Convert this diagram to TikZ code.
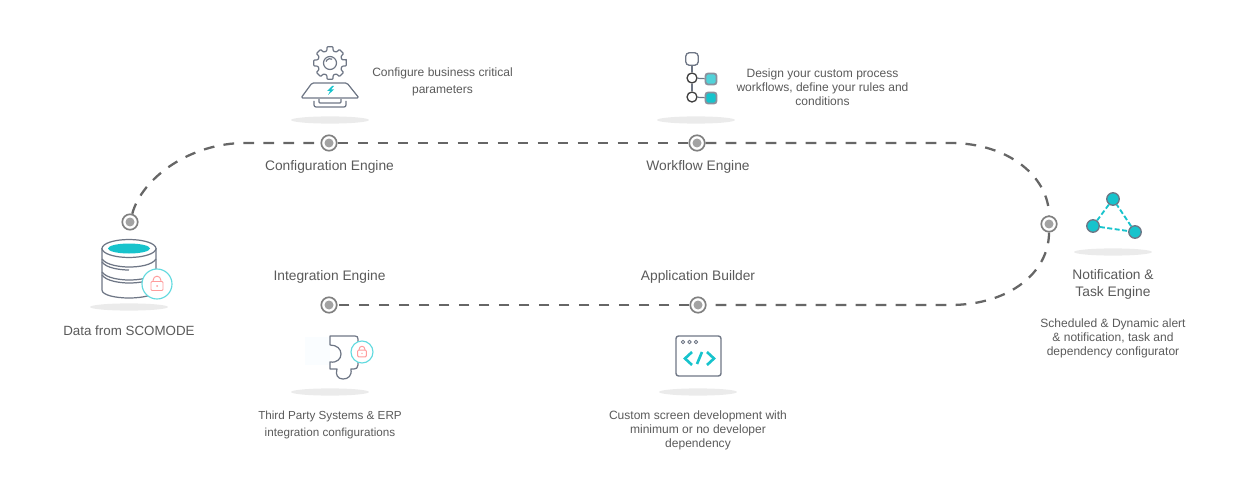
\documentclass[tikz,border=0pt]{standalone}
\usepackage{fontspec}
\setmainfont{Liberation Sans}
\definecolor{txt}{HTML}{5A5A5A}
\definecolor{tealc}{HTML}{17C3CC}
\definecolor{slate}{HTML}{6E7685}
\definecolor{shad}{HTML}{EBEBEB}
\definecolor{pinkc}{HTML}{FF9C9C}
\definecolor{ringc}{HTML}{62DADF}
\tikzset{
  x=0.02cm,y=-0.02cm,
  stopdot/.style={circle,draw=black!50,line width=0.95pt,fill=white,minimum size=0.31cm,inner sep=0pt,
    path picture={\fill[black!36] (path picture bounding box.center) circle (0.09cm);}},
  route/.style={draw=black!60,line width=1.3pt,dash pattern=on 0.215cm off 0.185cm},
  title/.style={text=txt,font=\fontsize{7.85}{9.6}\selectfont,inner sep=0pt,align=center},
  desc/.style={text=txt,font=\fontsize{6.85}{8}\selectfont,inner sep=0pt,align=center},
  descwide/.style={text=txt,font=\fontsize{6.85}{9.7}\selectfont,inner sep=0pt,align=center},
  icon/.style={draw=slate,line width=0.7pt,line join=round},
  shadow/.style={fill=shad,draw=none},
  flatdot/.style={circle,draw=black!75,fill=white,line width=0.75pt,inner sep=0pt,minimum size=0.2cm},
  tealdot/.style={circle,draw=slate,fill=tealc,line width=0.75pt,inner sep=0pt,minimum size=0.25cm},
  tealbox/.style={rectangle,rounded corners=0.05cm,draw=slate!80,fill=tealc,line width=1pt,inner sep=0pt,minimum size=0.22cm},
  tealdash/.style={tealc,line width=1.05pt,dash pattern=on 0.1cm off 0.05cm},
  codeline/.style={tealc,line width=1.5pt},
  lockicon/.pic={
    \draw[ringc,fill=white,line width=0.65pt] (0,0) circle (#1);
    \begin{scope}[scale=#1/15]
    \draw[pinkc,line width=0.55pt,rounded corners=0.02cm] (-6,-2.5) rectangle (6,6.5);
    \draw[pinkc,line width=0.55pt] (-3.8,-2.5) -- (-3.8,-4) arc (180:360:3.8) -- (3.8,-2.5);
    \fill[pinkc] (0,2) circle (1);
    \end{scope}
  },
}
\begin{document}
\begin{tikzpicture}
\useasboundingbox (0,0) rectangle (1248,500);
% stops
\node[stopdot] (d1) at (130,222) {};
\node[stopdot] (d2) at (329,143) {};
\node[stopdot] (d3) at (697,143) {};
\node[stopdot] (d4) at (1049,224) {};
\node[stopdot] (d5) at (698,305) {};
\node[stopdot] (d6) at (329,305) {};
\coordinate (c1) at (245,143);
\coordinate (c2) at (950,143);
\coordinate (c3) at (950,305);
% route
\draw[route] (d1) .. controls (142,178) and (190,143) .. (c1) -- (d2);
\draw[route] (d2) -- (d3);
\draw[route] (d3) -- (c2) .. controls (1010,143) and (1049,178) .. (d4);
\draw[route] (d4) .. controls (1049,272) and (1010,305) .. (c3) -- (d5);
\draw[route] (d5) -- (d6);
% shadows
\foreach \x/\y in {129/307,330/120,696/120,1113/252,330/392,698/392}
  \fill[shadow] (\x,\y) ellipse (39 and 3.6);
% database
\draw[icon,fill=white] (102,248) -- (102,290) .. controls (102,295) and (115,298) .. (129,298) .. controls (143,298) and (156,295) .. (156,290) -- (156,248);
\draw[icon] (102,272) .. controls (106,278) and (120,280) .. (129,280) .. controls (140,280) and (152,278) .. (156,272);
\draw[icon] (102,275) .. controls (106,281) and (120,283) .. (129,283) .. controls (140,283) and (152,281) .. (156,275);
\draw[icon] (102,259) .. controls (106,265) and (120,267) .. (129,267) .. controls (140,267) and (152,265) .. (156,259);
\draw[icon] (102,262) .. controls (106,268) and (120,270) .. (129,270);
\draw[icon,fill=white] (129,248.5) ellipse (27 and 9);
\fill[tealc] (129,248.5) ellipse (21 and 5);
\pic at (157,284) {lockicon=15};
% gear + platform
\begin{scope}[shift={(330,63)}]
\draw[icon,rounded corners=0.015cm] (-11:16.5) \foreach \a in {0,45,...,315}{ -- (\a-10:16.5) -- (\a+10:16.5) -- (\a+15:12.5) -- (\a+30:12.5) } -- cycle;
\draw[icon] (0,0) circle (6.5);
\draw[icon] (-4,-1.5) arc (200:300:4.3);
\end{scope}
\draw[icon,rounded corners=0.03cm] (312,83) -- (347,83) -- (359,98) -- (301,98) -- cycle;
\draw[icon,rounded corners=0.04cm] (314,101) -- (314,107) -- (346,107) -- (346,101);
\draw[icon,rounded corners=0.02cm] (319,99) -- (319,103) -- (341,103) -- (341,99);
\fill[tealc] (332,86) -- (327,91) -- (330,91) -- (328,95) -- (334,89.5) -- (331,89.5) -- (334,86) -- cycle;
% workflow icon
\node[draw=slate,line width=0.75pt,rounded corners=0.07cm,fill=white,inner sep=0pt,minimum size=0.25cm] (w1) at (692,59) {};
\node[flatdot] (w2) at (692,78) {};
\node[flatdot] (w3) at (692,97) {};
\node[tealbox,fill=tealc!75] (w4) at (711,79) {};
\node[tealbox] (w5) at (711,98) {};
\draw[icon] (w1) -- (w2);
\draw[icon] (w2) -- (w3);
\draw[icon] (w2) -- (w4);
\draw[icon] (w3) -- (w5);
% triangle icon
\node[tealdot] (t1) at (1113,199) {};
\node[tealdot] (t2) at (1093,226) {};
\node[tealdot] (t3) at (1135,232) {};
\draw[tealdash] (t1) -- (t2);
\draw[tealdash] (t2) -- (t3);
\draw[tealdash] (t3) -- (t1);
% puzzle icon
\fill[cyan!2] (305,337) rectangle (330,365);
\draw[icon] (330,345) -- (330,336) -- (355,336) .. controls (357,336) and (358,337) .. (358,339) -- (358,365) .. controls (358,368) and (356,369) .. (354,369) -- (351,369) .. controls (352,376) and (348,379) .. (343,379) .. controls (338,379) and (335,375) .. (337,369) -- (330,369) -- (330,362) .. controls (337,363) and (341,359) .. (341,354) .. controls (341,349) and (337,345) .. (330,345);
\pic at (362,352) {lockicon=11};
% app icon
\draw[icon,rounded corners=0.05cm,line width=0.8pt] (676,336) rectangle (721,376);
\foreach \x in {683,689.5,696} \draw[icon,line width=0.55pt] (\x,342) circle (1.8);
\draw[codeline] (692,352) -- (685,358.5) -- (692,365);
\draw[codeline] (702,352) -- (697,364);
\draw[codeline] (707,352) -- (714,358.5) -- (707,365);
% labels
\node[title,font=\fontsize{7.6}{10}\selectfont] (l1) at (129,330.5) {Data from SCOMODE};
\node[title] (l2) at (329.5,166.5) {Configuration Engine};
\node[title] (l3) at (698,166.5) {Workflow Engine};
\node[title] (l4) at (329.5,277) {Integration Engine};
\node[title] (l5) at (698,277) {Application Builder};
\node[title] (l6) at (1113,284.5) {Notification \&\\Task Engine};
\node[descwide] (e1) at (442.5,82) {Configure business critical\\parameters};
\node[desc] (e2) at (822.5,87.5) {Design your custom process\\workflows, define your rules and\\conditions};
\node[desc] (e3) at (1113,338.5) {Scheduled \& Dynamic alert\\\& notification, task and\\dependency configurator};
\node[descwide,font=\fontsize{6.65}{9.7}\selectfont] (e4) at (330,425) {Third Party Systems \& ERP\\integration configurations};
\node[desc] (e5) at (698,430.5) {Custom screen development with\\minimum or no developer\\dependency};
\end{tikzpicture}
\end{document}
